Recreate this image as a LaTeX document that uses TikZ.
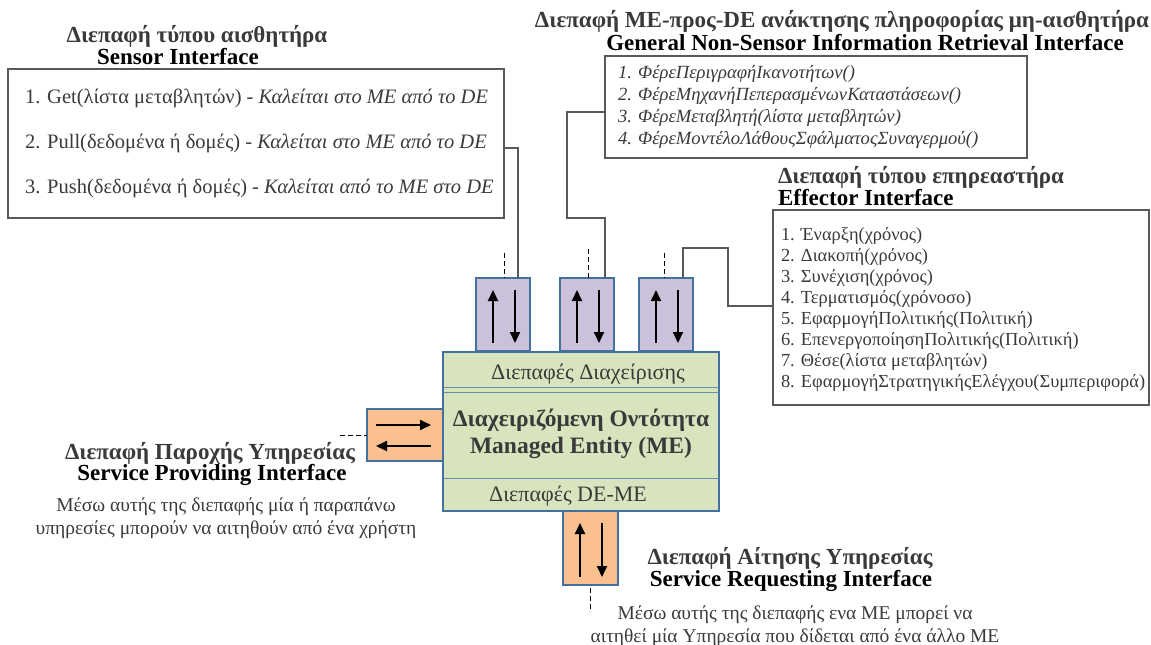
\documentclass[tikz,border=0pt]{standalone}
\usepackage{fontspec}
\setmainfont{Liberation Serif}
\usetikzlibrary{arrows.meta,calc}

\definecolor{meblue}{HTML}{41719C}
\definecolor{megreen}{HTML}{D7E4BD}
\definecolor{ifpurple}{HTML}{CCC1DA}
\definecolor{iforange}{HTML}{FAC090}
\definecolor{txtgray}{HTML}{3A3A3A}
\definecolor{linegray}{HTML}{595959}

\begin{document}
\begin{tikzpicture}[x=1pt,y=-1pt,
  every node/.style={inner sep=0pt, outer sep=0pt},
  listbox/.style={draw=linegray, line width=1.1pt, anchor=north west},
  titlegr/.style={font=\fontsize{23}{22}\selectfont\bfseries, text=txtgray},
  titleen/.style={font=\fontsize{23}{22}\selectfont\bfseries, text=black},
  sitem/.style={font=\fontsize{20.5}{24}\selectfont, text=txtgray, anchor=west},
  nitem/.style={font=\fontsize{18.6}{22}\selectfont\itshape, text=txtgray, anchor=west},
  eitem/.style={font=\fontsize{18.4}{22}\selectfont, text=txtgray, anchor=west},
  desc/.style={font=\fontsize{19.5}{23}\selectfont, text=txtgray, align=center},
  metext/.style={font=\fontsize{22}{24}\selectfont, text=txtgray},
  metitle/.style={font=\fontsize{23.5}{27}\selectfont\bfseries, text=txtgray, align=center},
  portv/.style={draw=meblue, line width=1.4pt, fill=ifpurple, minimum width=54, minimum height=73, anchor=north west},
  porto/.style={draw=meblue, line width=1.4pt, fill=iforange, anchor=north west},
  parrow/.style={draw=black, line width=1.8pt, -{Triangle[length=11pt,width=10pt]}},
  conn/.style={draw=linegray, line width=1.1pt},
  stub/.style={draw=black, line width=1pt, dash pattern=on 5pt off 3pt},
  sep/.style={draw=meblue!80, line width=0.9pt}
]
\useasboundingbox (0,0) rectangle (1151,645);

% ---------- Sensor interface ----------
\node[titlegr] (stitle) at (197,36) {Διεπαφή τύπου αισθητήρα};
\node[titleen] (stitleen) at (178,57) {Sensor Interface};
\node[listbox, minimum width=496, minimum height=149] (sensor) at (8,69) {};
\node[sitem] (s1) at (25,98) {1. Get(λίστα μεταβλητών) - \textit{Καλείται στο ΜΕ από το DE}};
\node[sitem] (s2) at (25,143) {2. Pull(δεδομένα ή δομές) - \textit{Καλείται στο ΜΕ από το DE}};
\node[sitem] (s3) at (25,188) {3. Push(δεδομένα ή δομές) - \textit{Καλείται από το ΜΕ στο DE}};

% ---------- Non-sensor information retrieval interface ----------
\node[titlegr] (ntitle) at (842,21) {Διεπαφή ΜΕ-προς-DE ανάκτησης πληροφορίας μη-αισθητήρα};
\node[titleen] (ntitleen) at (865,43) {General Non-Sensor Information Retrieval Interface};
\node[listbox, minimum width=422, minimum height=102] (nsir) at (605,56) {};
\node[nitem] (n1) at (618,74) {1. ΦέρεΠεριγραφήΙκανοτήτων()};
\node[nitem] (n2) at (618,96) {2. ΦέρεΜηχανήΠεπερασμένωνΚαταστάσεων()};
\node[nitem] (n3) at (618,118) {3. ΦέρεΜεταβλητή(λίστα μεταβλητών)};
\node[nitem] (n4) at (618,140) {4. ΦέρεΜοντέλοΛάθουςΣφάλματοςΣυναγερμού()};

% ---------- Effector interface ----------
\node[titlegr, anchor=west] (etitle) at (778,177) {Διεπαφή τύπου επηρεαστήρα};
\node[titleen, anchor=west] (etitleen) at (778,198) {Effector Interface};
\node[listbox, minimum width=376, minimum height=195] (eff) at (773,210) {};
\node[eitem] (e1) at (781,236) {1. Έναρξη(χρόνος)};
\node[eitem] (e2) at (781,257) {2. Διακοπή(χρόνος)};
\node[eitem] (e3) at (781,278) {3. Συνέχιση(χρόνος)};
\node[eitem] (e4) at (781,299) {4. Τερματισμός(χρόνοσο)};
\node[eitem] (e5) at (781,320) {5. ΕφαρμογήΠολιτικής(Πολιτική)};
\node[eitem] (e6) at (781,341) {6. ΕπενεργοποίησηΠολιτικής(Πολιτική)};
\node[eitem] (e7) at (781,362) {7. Θέσε(λίστα μεταβλητών)};
\node[eitem] (e8) at (781,383) {8. ΕφαρμογήΣτρατηγικήςΕλέγχου(Συμπεριφορά)};

% ---------- Management ports on top of the entity ----------
\node[portv] (p1) at (476,278) {};
\node[portv] (p2) at (560,278) {};
\node[portv] (p3) at (639,278) {};
\foreach \p in {p1,p2,p3}{
  \draw[parrow] ([xshift=17pt,yshift=8pt]\p.south west) -- ([xshift=17pt,yshift=-12pt]\p.north west);
  \draw[parrow] ([xshift=39pt,yshift=-12pt]\p.north west) -- ([xshift=39pt,yshift=8pt]\p.south west);
}

% ---------- Service providing / requesting ports ----------
\node[porto, minimum width=76, minimum height=52] (sp) at (367,409) {};
\draw[parrow] ([xshift=9pt,yshift=-16pt]sp.north west) -- ([xshift=-12pt,yshift=-16pt]sp.north east);
\draw[parrow] ([xshift=-12pt,yshift=15pt]sp.south east) -- ([xshift=9pt,yshift=15pt]sp.south west);

\node[porto, minimum width=55, minimum height=74] (sr) at (563,511) {};
\draw[parrow] ([xshift=17pt,yshift=8pt]sr.south west) -- ([xshift=17pt,yshift=-12pt]sr.north west);
\draw[parrow] ([xshift=39pt,yshift=-12pt]sr.north west) -- ([xshift=39pt,yshift=8pt]sr.south west);

% ---------- Managed entity ----------
\node[draw=meblue, line width=2.4pt, fill=megreen, minimum width=276, minimum height=159, anchor=north west] (me) at (443,352) {};
\draw[sep] (me.west |- 0,387) -- (me.east |- 0,387);
\draw[sep] (me.west |- 0,392) -- (me.east |- 0,392);
\draw[sep] (me.west |- 0,478) -- (me.east |- 0,478);
\node[metext] (mgmt) at (588,374) {Διεπαφές Διαχείρισης};
\node[metitle] (metitle) at (581,434) {Διαχειριζόμενη Οντότητα\\Managed Entity (ME)};
\node[metext] (deme) at (568,496) {Διεπαφές DE-ME};

% ---------- Connectors from the lists to the ports ----------
\draw[conn] (sensor.east |- 0,148) -- (518,148) -- (518,0 |- p1.north);
\draw[conn] (nsir.west |- 0,112) -- (567,112) -- (567,218) -- (605,218) -- (605,0 |- p2.north);
\draw[conn] (eff.west |- 0,306) -- (728,306) -- (728,248) -- (683,248) -- (683,0 |- p3.north);

% ---------- Dashed stubs ----------
\coordinate (d1) at (504,253);
\coordinate (d2) at (588,249);
\coordinate (d3) at (664,253);
\coordinate (dsp) at (340,435);
\coordinate (dsrA) at (590,588);
\coordinate (dsrB) at (590,612);
\draw[stub] (d1) -- (d1 |- p1.north);
\draw[stub] (d2) -- (d2 |- p2.north);
\draw[stub] (d3) -- (d3 |- p3.north);
\draw[stub] (dsp) -- (sp.west |- dsp);
\draw[stub] (dsrA) -- (dsrB);

% ---------- Service providing interface ----------
\node[titlegr] (sptitle) at (210,453) {Διεπαφή Παροχής Υπηρεσίας};
\node[titleen] (sptitleen) at (212,475) {Service Providing Interface};
\node[desc] (spdesc) at (226,518) {Μέσω αυτής της διεπαφής μία ή παραπάνω\\υπηρεσίες μπορούν να αιτηθούν από ένα χρήστη};

% ---------- Service requesting interface ----------
\node[titlegr] (srtitle) at (790,558) {Διεπαφή Αίτησης Υπηρεσίας};
\node[titleen] (srtitleen) at (791,581) {Service Requesting Interface};
\node[desc] (srdesc) at (795,626) {Μέσω αυτής της διεπαφής ενα ΜΕ μπορεί να\\αιτηθεί μία Υπηρεσία που δίδεται από ένα άλλο ΜΕ};
\end{tikzpicture}
\end{document}
